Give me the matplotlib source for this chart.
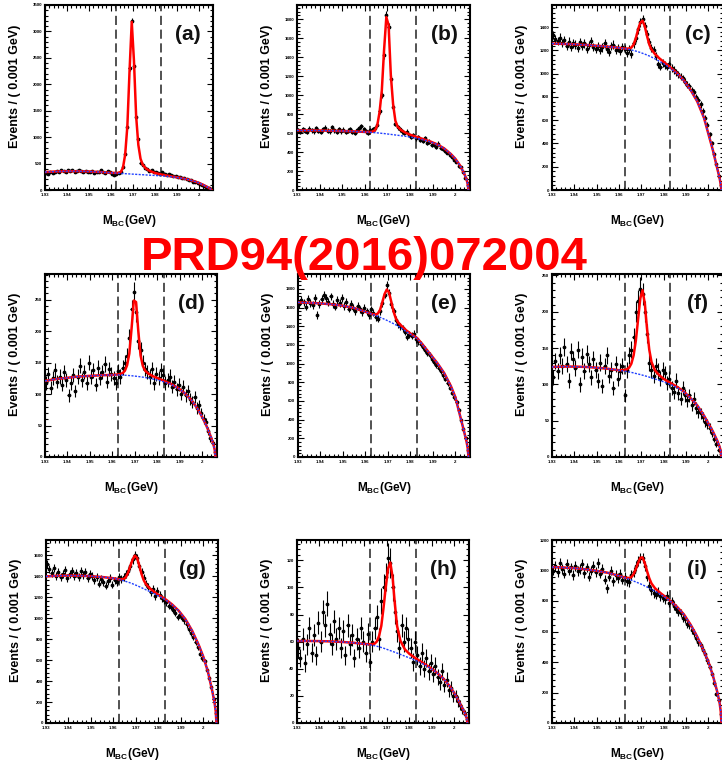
import numpy as np
import matplotlib
matplotlib.use('Agg')
import matplotlib.pyplot as plt
from matplotlib.ticker import MultipleLocator, FuncFormatter

plt.rcParams['font.family'] = ['Liberation Sans', 'DejaVu Sans']
plt.rcParams['font.weight'] = 'bold'
plt.rcParams['axes.labelweight'] = 'bold'
plt.rcParams['mathtext.fontset'] = 'custom'
plt.rcParams['mathtext.rm'] = 'Liberation Sans:bold'
plt.rcParams['mathtext.bf'] = 'Liberation Sans:bold'

# bin centres of the M_BC histograms (0.001 GeV bins)
mbc = np.round(1.9305 + 0.001 * np.arange(76), 4)

fx = [1.930, 1.935, 1.940, 1.945, 1.950, 1.955, 1.960,
      1.963, 1.9645, 1.9655, 1.9665, 1.9675, 1.9685, 1.9695, 1.9705, 1.9715, 1.9725, 1.9735, 1.9745,
      1.976, 1.978, 1.980, 1.983, 1.986, 1.989, 1.992,
      1.995, 1.998, 2.000, 2.002, 2.004, 2.005, 2.0055, 2.0058]

# signal window (dashed lines)
window = [1.9625, 1.9828]

# ---- (a)
a_counts = [330, 310, 345, 325, 350, 362, 340, 372, 355, 348,
            380, 360, 372, 345, 368, 380, 352, 340, 362, 345,
            338, 355, 320, 348, 335, 372, 342, 325, 368, 335,
            300, 285, 310, 330, 345, 430, 680, 1190, 2300, 3200,
            2350, 1380, 960, 520, 470, 420, 390, 360, 375, 340,
            350, 320, 300, 335, 310, 290, 305, 275, 260, 270,
            245, 250, 220, 230, 205, 190, 185, 160, 150, 130,
            120, 95, 80, 60, 35, 15]
a_bkg = [340, 350, 355, 355, 350, 340, 326,
         318, 314, 311, 309, 306, 304, 301, 299, 296, 294, 291, 289,
         285, 280, 275, 268, 257, 243, 225,
         200, 165, 135, 98, 55, 30, 15, 0]
a_sig = [0, 0, 0, 0, 0, 0, 0,
         4, 25, 110, 360, 900, 1950, 2880, 2150, 1100, 560, 300, 190,
         120, 75, 48, 25, 12, 5, 2,
         0, 0, 0, 0, 0, 0, 0, 0]

# ---- (b)
b_counts = [630, 615, 640, 625, 610, 645, 630, 620, 650, 625,
            610, 640, 655, 625, 620, 660, 630, 615, 640, 620,
            635, 610, 625, 640, 615, 600, 630, 650, 670, 640,
            620, 605, 630, 640, 650, 690, 830, 1000, 1420, 1840,
            1720, 1175, 880, 700, 660, 640, 620, 600, 615, 580,
            560, 575, 545, 560, 530, 520, 545, 500, 510, 470,
            480, 455, 490, 440, 430, 410, 395, 370, 350, 320,
            300, 250, 240, 185, 130, 55]
b_bkg = [628, 628, 627, 625, 622, 618, 612,
         607, 604, 602, 600, 597, 595, 592, 589, 586, 583, 580, 577,
         572, 566, 558, 545, 528, 508, 480,
         440, 380, 330, 262, 170, 110, 60, 0]
b_sig = [0, 0, 0, 0, 0, 0, 0,
         5, 25, 80, 220, 450, 880, 1230, 1150, 620, 320, 150, 90,
         60, 38, 25, 14, 7, 3, 1,
         0, 0, 0, 0, 0, 0, 0, 0]

# ---- (c)
c_counts = [1330, 1300, 1280, 1310, 1265, 1290, 1240, 1275, 1230, 1260,
            1250, 1220, 1270, 1235, 1260, 1215, 1245, 1280, 1230, 1210,
            1240, 1205, 1225, 1260, 1215, 1190, 1235, 1250, 1205, 1220,
            1195, 1230, 1210, 1180, 1215, 1170, 1260, 1310, 1380, 1440,
            1470, 1410, 1340, 1270, 1220, 1200, 1150, 1080, 1060, 1090,
            1075, 1060, 1080, 1050, 1030, 1010, 995, 975, 960, 930,
            905, 890, 860, 840, 800, 770, 735, 680, 620, 560,
            480, 400, 310, 220, 120, 40]
c_bkg = [1258, 1256, 1252, 1247, 1240, 1232, 1222,
         1213, 1208, 1204, 1199, 1194, 1188, 1182, 1175, 1168, 1160, 1152, 1143,
         1128, 1107, 1085, 1045, 1000, 940, 860,
         760, 620, 480, 340, 180, 100, 45, 0]
c_sig = [0, 0, 0, 0, 0, 0, 0,
         2, 8, 20, 50, 110, 190, 255, 280, 240, 165, 100, 65,
         42, 25, 16, 8, 4, 2, 0,
         0, 0, 0, 0, 0, 0, 0, 0]

# ---- (d)
d_counts = [118, 132, 110, 125, 138, 120, 128, 115, 135, 122,
            98, 118, 130, 105, 128, 145, 122, 135, 118, 150,
            128, 138, 115, 142, 125, 135, 148, 120, 140, 132,
            125, 118, 136, 128, 142, 150, 160, 190, 235, 262,
            230, 185, 170, 150, 140, 135, 128, 140, 118, 132,
            125, 138, 130, 118, 122, 128, 112, 120, 108, 115,
            100, 112, 98, 105, 92, 88, 95, 78, 82, 70,
            60, 55, 42, 30, 22, 8]
d_bkg = [121, 124, 126, 128, 129, 130, 130.5,
         130.5, 130.3, 130, 129.8, 129.5, 129.2, 128.8, 128.4, 128, 127.5, 127, 126.4,
         125.5, 124, 122.5, 119.5, 115.5, 110, 102,
         91, 76, 63, 48, 30, 19, 11, 0]
d_sig = [0, 0, 0, 0, 0, 0, 0,
         1, 3, 7, 16, 35, 75, 120, 118, 72, 34, 18, 11,
         7, 4.5, 3, 1.5, 0.7, 0.3, 0,
         0, 0, 0, 0, 0, 0, 0, 0]

# ---- (e)
e_counts = [1640, 1680, 1655, 1610, 1690, 1650, 1630, 1700, 1520, 1640,
            1690, 1740, 1700, 1660, 1720, 1640, 1610, 1680, 1650, 1700,
            1620, 1660, 1590, 1640, 1600, 1560, 1620, 1580, 1550, 1600,
            1560, 1520, 1580, 1545, 1500, 1480, 1560, 1650, 1740, 1840,
            1760, 1640, 1560, 1470, 1420, 1400, 1380, 1340, 1290, 1310,
            1300, 1320, 1260, 1240, 1210, 1180, 1150, 1110, 1090, 1050,
            1020, 990, 950, 920, 880, 840, 790, 740, 690, 640,
            590, 500, 400, 300, 200, 80]
e_bkg = [1656, 1652, 1645, 1635, 1620, 1595, 1555,
         1528, 1516, 1506, 1496, 1486, 1475, 1464, 1452, 1440, 1428, 1415, 1402,
         1380, 1345, 1315, 1270, 1185, 1095, 1005,
         900, 760, 640, 450, 260, 160, 90, 0]
e_sig = [0, 0, 0, 0, 0, 0, 0,
         2, 10, 30, 80, 170, 270, 330, 310, 220, 130, 70, 42,
         25, 14, 8, 4, 2, 1, 0,
         0, 0, 0, 0, 0, 0, 0, 0]

# ---- (f)
f_counts = [110, 132, 118, 140, 125, 152, 128, 105, 145, 135,
            122, 148, 100, 138, 118, 142, 128, 110, 135, 120,
            105, 130, 98, 125, 140, 112, 120, 95, 128, 108,
            118, 125, 85, 120, 140, 148, 165, 200, 215, 232,
            225, 200, 170, 130, 120, 112, 125, 118, 108, 120,
            115, 102, 108, 95, 90, 105, 88, 80, 95, 85,
            78, 85, 72, 80, 68, 62, 60, 55, 48, 45,
            40, 33, 25, 18, 10, 4]
f_bkg = [124, 124.5, 124.5, 124, 123, 121.5, 119.5,
         118, 117, 116.5, 115.8, 115, 114.3, 113.5, 112.7, 111.8, 111, 110, 109,
         107.5, 105.5, 103.5, 100, 95.5, 89.5, 81,
         71, 57, 46, 35, 22, 14, 8, 0]
f_sig = [0, 0, 0, 0, 0, 0, 0,
         2, 6, 12, 24, 45, 75, 105, 117, 100, 66, 38, 22,
         12, 7, 4, 2, 1, 0.5, 0,
         0, 0, 0, 0, 0, 0, 0, 0]

# ---- (g)
g_counts = [1520, 1470, 1430, 1480, 1400, 1440, 1390, 1420, 1460, 1380,
            1420, 1450, 1400, 1430, 1390, 1450, 1410, 1440, 1380, 1420,
            1400, 1360, 1390, 1330, 1370, 1340, 1310, 1350, 1380, 1320,
            1360, 1340, 1390, 1370, 1390, 1420, 1450, 1500, 1560, 1600,
            1570, 1500, 1440, 1380, 1330, 1300, 1250, 1280, 1210, 1260,
            1220, 1190, 1170, 1150, 1120, 1110, 1080, 1050, 1010, 1030,
            1000, 980, 940, 900, 860, 820, 770, 720, 660, 620,
            590, 510, 430, 340, 230, 100]
g_bkg = [1398, 1404, 1406, 1405, 1400, 1392, 1380,
         1366, 1357, 1350, 1343, 1336, 1328, 1318, 1310, 1300, 1290, 1280, 1270,
         1255, 1235, 1212, 1178, 1130, 1070, 990,
         880, 740, 630, 490, 300, 190, 110, 0]
g_sig = [0, 0, 0, 0, 0, 0, 0,
         3, 15, 40, 90, 160, 230, 278, 265, 200, 130, 80, 52,
         32, 18, 10, 4, 2, 1, 0,
         0, 0, 0, 0, 0, 0, 0, 0]

# ---- (h)
h_counts = [55, 48, 62, 44, 58, 70, 52, 65, 50, 74,
            60, 82, 72, 88, 66, 58, 75, 62, 70, 55,
            68, 50, 72, 58, 65, 48, 62, 55, 70, 60,
            52, 66, 45, 60, 70, 78, 62, 90, 100, 108,
            122, 118, 100, 82, 68, 55, 72, 60, 70, 62,
            55, 45, 60, 50, 42, 52, 40, 48, 38, 44,
            36, 42, 34, 30, 38, 28, 32, 24, 26, 20,
            20, 16, 13, 10, 7, 3]
h_bkg = [60.5, 60.5, 60.4, 60.2, 59.8, 59.2, 58.3,
         57.5, 57, 56.6, 56.2, 55.7, 55.2, 54.6, 54, 53.4, 52.8, 52.2, 51.6,
         50.6, 49.3, 48, 46, 43.6, 40.8, 37.4,
         33, 27, 22, 16, 9.5, 6, 3.5, 0]
h_sig = [0, 0, 0, 0, 0, 0, 0,
         0.5, 1.5, 3.5, 8, 16, 30, 46, 60, 65, 55, 36, 20,
         10, 5, 3, 1.5, 0.7, 0.3, 0,
         0, 0, 0, 0, 0, 0, 0, 0]

# ---- (i)
i_counts = [1000, 1030, 990, 1050, 1010, 980, 1040, 1000, 1020, 970,
            1030, 995, 1010, 1040, 985, 1020, 960, 1000, 1030, 990,
            1050, 980, 1010, 940, 885, 960, 1000, 930, 970, 950,
            980, 940, 960, 930, 925, 970, 990, 1030, 1060, 1085,
            1080, 1030, 960, 900, 870, 850, 840, 860, 830, 820,
            810, 835, 790, 800, 770, 750, 730, 720, 690, 680,
            650, 640, 610, 590, 560, 530, 510, 480, 450, 410,
            370, 320, 260, 190, 150, 60]
i_bkg = [1022, 1020, 1015, 1008, 998, 985, 965,
         950, 943, 937, 931, 925, 919, 913, 906, 899, 892, 885, 877,
         865, 848, 830, 798, 760, 712, 645,
         565, 470, 400, 310, 200, 130, 75, 0]
i_sig = [0, 0, 0, 0, 0, 0, 0,
         2, 8, 20, 45, 85, 130, 170, 180, 150, 105, 65, 38,
         20, 10, 5, 2, 1, 0.5, 0,
         0, 0, 0, 0, 0, 0, 0, 0]

panel_tags = ['(a)', '(b)', '(c)', '(d)', '(e)', '(f)', '(g)', '(h)', '(i)']
panel_counts = [a_counts, b_counts, c_counts, d_counts, e_counts, f_counts, g_counts, h_counts, i_counts]
panel_bkg = [a_bkg, b_bkg, c_bkg, d_bkg, e_bkg, f_bkg, g_bkg, h_bkg, i_bkg]
panel_sig = [a_sig, b_sig, c_sig, d_sig, e_sig, f_sig, g_sig, h_sig, i_sig]
panel_ymax = [3500, 1950, 1590, 291, 1960, 252, 1745, 135, 1200]
panel_ystep = [500, 200, 200, 50, 200, 50, 200, 20, 200]

# axes boxes in pixels: left, top, right, bottom
W, H = 722, 765
boxes = [(45, 5, 213, 190), (297, 5, 470, 190), (552, 5, 723, 190),
         (45, 274, 217, 457), (298, 274, 470, 457), (552, 274, 723, 457),
         (46, 540, 218, 723), (297, 540, 469, 723), (552, 540, 723, 723)]

fig = plt.figure(figsize=(W / 100, H / 100), dpi=100)

for n in range(9):
    x0, y0, x1, y1 = boxes[n]
    ax = fig.add_axes([x0 / W, 1 - y1 / H, (x1 - x0) / W, (y1 - y0) / H])
    counts = np.array(panel_counts[n], dtype=float)
    bkg = np.array(panel_bkg[n], dtype=float)
    total = bkg + np.array(panel_sig[n], dtype=float)

    for xv in window:
        ax.axvline(xv, color='#222222', lw=1.1, ls=(0, (6, 3)), zorder=2)
    ax.errorbar(mbc, counts, xerr=0.0005, yerr=np.sqrt(counts), fmt='o', ms=1.7,
                color='black', elinewidth=0.8, capsize=0, zorder=3)
    ax.plot(fx, total, color='red', lw=1.8, zorder=4)
    ax.plot(fx, bkg, color='#2040ff', lw=1.0, ls=(0, (1.5, 1.0)), zorder=5)

    ax.set_xlim(1.93, 2.0065)
    ax.set_ylim(0, panel_ymax[n])
    ax.xaxis.set_major_locator(MultipleLocator(0.01))
    ax.xaxis.set_minor_locator(MultipleLocator(0.002))
    ax.yaxis.set_major_locator(MultipleLocator(panel_ystep[n]))
    ax.yaxis.set_minor_locator(MultipleLocator(panel_ystep[n] / 5))
    ax.xaxis.set_major_formatter(FuncFormatter(lambda v, p: f'{v:g}'))
    ax.yaxis.set_major_formatter(FuncFormatter(lambda v, p: f'{v:g}'))
    ax.tick_params(which='both', direction='in', top=True, right=True,
                   labelsize=3.2, width=0.8, pad=2)
    ax.tick_params(which='major', length=4)
    ax.tick_params(which='minor', length=2)
    for sp in ax.spines.values():
        sp.set_linewidth(1.5)

    ax.set_xlabel(r'M$_{\mathbf{BC}}$(GeV)', fontsize=8.5)
    ax.xaxis.set_label_coords(0.5, -0.125)
    ax.set_ylabel('Events / ( 0.001 GeV)', fontsize=9)
    ax.yaxis.set_label_coords(-0.14, 0.56)
    ax.text(0.85, 0.84, panel_tags[n], transform=ax.transAxes, fontsize=15,
            ha='center', va='center', color='#111111')

fig.text(364 / W, 1 - 258 / H, 'PRD94(2016)072004', color='red', fontsize=34,
         fontweight='bold', ha='center', va='center')

fig.savefig('out.png', dpi=100)
